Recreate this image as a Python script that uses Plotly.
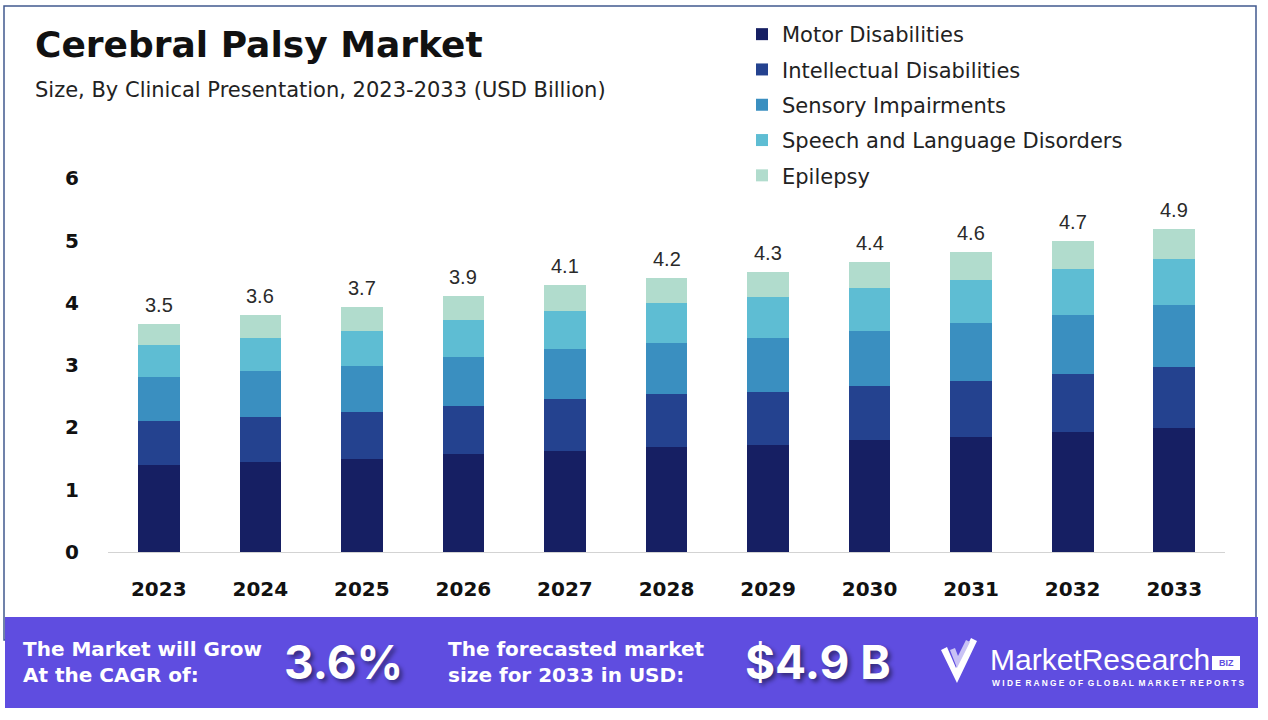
import plotly.graph_objects as go

years = ["2023", "2024", "2025", "2026", "2027", "2028", "2029", "2030", "2031", "2032", "2033"]
motor = [1.40, 1.44, 1.49, 1.57, 1.62, 1.69, 1.72, 1.79, 1.84, 1.92, 1.99]
intellectual = [0.70, 0.73, 0.76, 0.78, 0.83, 0.84, 0.85, 0.88, 0.91, 0.93, 0.98]
sensory = [0.71, 0.74, 0.73, 0.78, 0.81, 0.83, 0.86, 0.88, 0.93, 0.95, 1.00]
speech = [0.51, 0.53, 0.56, 0.59, 0.61, 0.63, 0.66, 0.68, 0.69, 0.74, 0.73]
epilepsy = [0.34, 0.37, 0.39, 0.39, 0.41, 0.41, 0.41, 0.43, 0.45, 0.46, 0.49]
total_labels = ["3.5", "3.6", "3.7", "3.9", "4.1", "4.2", "4.3", "4.4", "4.6", "4.7", "4.9"]

series_names = ["Motor Disabilities", "Intellectual Disabilities", "Sensory Impairments",
                "Speech and Language Disorders", "Epilepsy"]
series_values = [motor, intellectual, sensory, speech, epilepsy]
colors = ["#161f63", "#24428f", "#3a8fc0", "#5ebdd3", "#b1dccd"]

W, H = 1268, 720
L, R, T, B = 108, 43, 165, 168
PW, PH = W - L - R, H - T - B
UNIT = 62.3
YMAX = PH / UNIT

SANS = "DejaVu Sans"
INTER = "Inter"


def px(x):
    return (x - L) / PW


def py(y):
    return (H - B - y) / PH


fig = go.Figure()
for name, vals, col in zip(series_names, series_values, colors):
    fig.add_trace(go.Bar(
        x=years, y=vals, name=name, marker=dict(color=col, line=dict(width=0)),
        legendgroup=name, hoverinfo="skip"))

totals = [sum(v) for v in zip(*series_values)]
annotations = []
for i, (tot, lab) in enumerate(zip(totals, total_labels)):
    annotations.append(dict(x=i, y=tot, xref="x", yref="y", text=lab, showarrow=False,
                            yanchor="bottom", yshift=6,
                            font=dict(family="Liberation Sans", size=20, color="#2a2a2a")))

annotations += [
    dict(x=px(33), y=py(44), xref="paper", yref="paper", xanchor="left", yanchor="middle",
         text="<b>Cerebral Palsy Market</b>", showarrow=False,
         font=dict(family=SANS, size=36, color="#111111")),
    dict(x=px(33), y=py(90), xref="paper", yref="paper", xanchor="left", yanchor="middle",
         text="Size, By Clinical Presentation, 2023-2033 (USD Billion)", showarrow=False,
         font=dict(family=SANS, size=21, color="#222222")),
    # banner texts
    dict(x=px(21), y=py(662), xref="paper", yref="paper", xanchor="left", yanchor="middle",
         text="<b>The Market will Grow<br>At the CAGR of:</b>", showarrow=False, align="left",
         font=dict(family=SANS, size=20, color="white")),
    dict(x=px(282), y=py(662), xref="paper", yref="paper", xanchor="left", yanchor="middle",
         text="<b>3.6%</b>", showarrow=False,
         font=dict(family=INTER, size=46, color="white", shadow="3px 3px 4px rgba(0,0,0,0.45)")),
    dict(x=px(446), y=py(662), xref="paper", yref="paper", xanchor="left", yanchor="middle",
         text="<b>The forecasted market<br>size for 2033 in USD:</b>", showarrow=False, align="left",
         font=dict(family=SANS, size=20, color="white")),
    dict(x=px(743), y=py(662), xref="paper", yref="paper", xanchor="left", yanchor="middle",
         text="<b>$4.9 B</b>", showarrow=False,
         font=dict(family=INTER, size=46, color="white", shadow="3px 3px 4px rgba(0,0,0,0.45)")),
    dict(x=px(988), y=py(659), xref="paper", yref="paper", xanchor="left", yanchor="middle",
         text="MarketResearch", showarrow=False,
         font=dict(family="Liberation Sans", size=30, color="white")),
    dict(x=px(1226), y=py(663), xref="paper", yref="paper", xanchor="center", yanchor="middle",
         text="<b>BIZ</b>", showarrow=False,
         font=dict(family="Liberation Sans", size=9, color="#5f4de0")),
    dict(x=px(990), y=py(683), xref="paper", yref="paper", xanchor="left", yanchor="middle",
         text="<b>W I D E  R A N G E  O F  G L O B A L  M A R K E T  R E P O R T S</b>", showarrow=False,
         font=dict(family="Liberation Sans", size=8.4, color="white")),
]


def rect(x0, y0, x1, y1, **kw):
    return dict(type="rect", xref="paper", yref="paper",
                x0=px(x0), x1=px(x1), y0=py(y1), y1=py(y0), **kw)


def path(points, **kw):
    d = "M " + " L ".join(f"{px(x):.5f},{py(y):.5f}" for x, y in points) + " Z"
    return dict(type="path", xref="paper", yref="paper", path=d, **kw)


shapes = [
    rect(4, 6, 1256, 640, line=dict(color="#42598f", width=1.5), fillcolor="rgba(0,0,0,0)", layer="below"),
    rect(5, 617, 1258, 708, line=dict(width=0), fillcolor="#5f4de0", layer="above"),
    # logo checkmark
    path([(941, 650), (947, 647), (956, 668), (971, 638), (977, 641), (957, 683)],
         line=dict(width=0), fillcolor="white", layer="above"),
    path([(950, 650), (955, 648), (958, 656), (966, 640), (970, 642), (957, 668)],
         line=dict(width=0), fillcolor="#c9c2f5", layer="above"),
    rect(1212, 656, 1240, 670, line=dict(width=0), fillcolor="white", layer="above"),
]

fig.update_layout(
    width=W, height=H,
    margin=dict(l=L, r=R, t=T, b=B, pad=0),
    paper_bgcolor="white", plot_bgcolor="white",
    barmode="stack", bargap=0.59,
    showlegend=True,
    legend=dict(x=px(742), y=py(14), xanchor="left", yanchor="top", xref="paper", yref="paper",
                orientation="v", traceorder="grouped", tracegroupgap=5,
                font=dict(family=SANS, size=21, color="#222222"),
                bgcolor="rgba(0,0,0,0)", itemclick=False, itemdoubleclick=False),
    xaxis=dict(type="category", range=[-0.5, len(years) - 0.5], showgrid=False, showline=True,
               linecolor="#d3d3d3", linewidth=1, ticks="", ticklabelstandoff=19,
               tickfont=dict(family=SANS, size=20, color="#111111", weight="bold")),
    yaxis=dict(range=[0, YMAX], showgrid=False, zeroline=False, showline=False,
               tickvals=[0, 1, 2, 3, 4, 5, 6], ticks="", ticklabelstandoff=28,
               tickfont=dict(family=SANS, size=20, color="#111111", weight="bold")),
    annotations=annotations,
    shapes=shapes,
)

fig.write_html("out.html")
